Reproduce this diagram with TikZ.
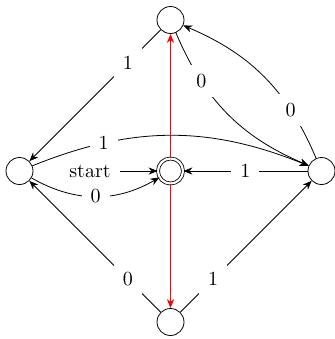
\documentclass[tikz,border=0pt]{standalone}
\usetikzlibrary{arrows.meta}
\begin{document}
\begin{tikzpicture}[x=0.5pt,y=-0.5pt,
  stt/.style={circle,draw,minimum size=13.5pt,inner sep=0pt},
  acc/.style={circle,draw,double,double distance=1.1pt,minimum size=12.5pt,inner sep=0pt},
  lab/.style={fill=white,inner sep=4.5pt,font=\normalsize},
  >={Stealth[length=4.5pt,width=3.6pt]}]
\useasboundingbox (0,0) rectangle (335,339);
\node[acc] (c) at (170.5,171) {};
\node[stt] (t) at (170.5,20) {};
\node[stt] (l) at (19.5,171) {};
\node[stt] (r) at (321.5,171) {};
\node[stt] (b) at (170.5,322) {};
\node[lab] (s) at (90,171) {start};
\draw[->] (s) -- (c);
\draw[->] (t) -- node[lab,pos=0.25]{1} (l);
\draw[->] (b) -- node[lab,pos=0.25]{0} (l);
\draw[->] (b) -- node[lab,pos=0.25]{1} (r);
\draw[->] (r) -- node[lab]{1} (c);
\draw[->] (l) to[bend right=30] node[lab]{0} (c);
\draw[->] (l) to[bend left=22] node[lab,pos=0.25]{1} (r);
\draw[->] (t) to[bend right=22] node[lab,pos=0.27]{0} (r);
\draw[->] (r) to[bend right=22] node[lab,pos=0.27]{0} (t);
\draw[->,red] (c) -- (t);
\draw[->,red] (c) -- (b);
\end{tikzpicture}
\end{document}
